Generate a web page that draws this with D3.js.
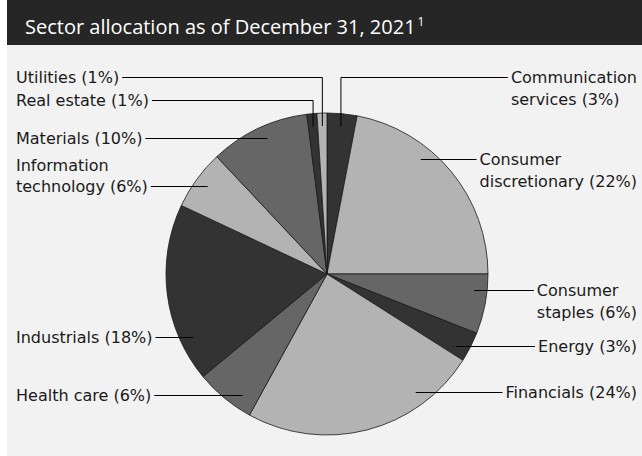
<!DOCTYPE html>
<html>
<head>
<meta charset="utf-8">
<script src="https://cdn.jsdelivr.net/npm/d3@7"></script>
<style>
body { margin: 0; background: #fff; }
</style>
</head>
<body>
<svg id="chart" width="642" height="456"></svg>
<script>
// data
var sectors = ["Communication services", "Consumer discretionary", "Consumer staples", "Energy", "Financials",
	"Health care", "Industrials", "Information technology", "Materials", "Real estate", "Utilities"];
var weights = [3, 22, 6, 3, 24, 6, 18, 6, 10, 1, 1];
// words on the first label line (0 = one line)
var wrapAfter = [1, 1, 1, 0, 0, 0, 0, 1, 0, 0, 0];
var shades = ["#333333", "#b3b3b3", "#666666"];

var title = "Sector allocation as of December 31, 2021";
var note = "1";

// label layout: which side and at what height the leader line runs
var labelSide = [1, 1, 1, 1, 1, -1, -1, -1, -1, -1, -1];
var labelY = [77.5, 159.5, 290.5, 346.5, 392.5, 395.5, 337.5, 186.5, 138.5, 100.5, 77.5];
var elbow = [true, false, false, false, false, false, false, false, false, true, true];

var W = 642, H = 456;
var cx = 327, cy = 274, R = 161, anchorR = 148;
var lineGap = 21.5;

var svg = d3.select('#chart');

svg.append('rect')
	.attr('x', 7).attr('y', 0)
	.attr('width', W - 7).attr('height', H)
	.style('fill', '#f2f2f2');

svg.append('rect')
	.attr('x', 7).attr('y', 0)
	.attr('width', W - 7).attr('height', 45)
	.style('fill', '#262626');

var t = svg.append('text')
	.attr('x', 25).attr('y', 34)
	.style('font-family', '"Open Sans", sans-serif')
	.style('font-size', '20px')
	.style('fill', '#ffffff')
	.text(title);
t.append('tspan')
	.attr('dy', -8)
	.attr('dx', 2)
	.style('font-size', '12px')
	.text(note);

var pie = d3.pie().sort(null).value(function(d) { return d; });
var arcs = pie(weights);
var arc = d3.arc().innerRadius(0).outerRadius(R);

var g = svg.append('g').attr('transform', 'translate(' + cx + ',' + cy + ')');

g.selectAll('.slice')
	.data(arcs)
	.enter()
	.append('path')
	.attr('class', 'slice')
	.attr('d', arc)
	.style('fill', function(d, i) { return shades[i % 3]; })
	.style('stroke', '#1a1a1a')
	.style('stroke-width', 0.8);

var labels = svg.append('g')
	.style('font-family', '"DejaVu Sans", sans-serif')
	.style('font-size', '16px')
	.style('fill', '#1a1a1a');

arcs.forEach(function(a, i) {
	var words = (sectors[i] + ' (' + weights[i] + '%)').split(' ');
	var lines = wrapAfter[i] ? [words.slice(0, wrapAfter[i]).join(' '), words.slice(wrapAfter[i]).join(' ')] : [words.join(' ')];
	var side = labelSide[i];
	var y = labelY[i];

	var txt = labels.append('text');
	var spans = lines.map(function(l, k) {
		var ly = side > 0 ? y + k * lineGap : y - (lines.length - 1 - k) * lineGap;
		return txt.append('tspan').attr('y', ly).attr('dy', '0.36em').text(l);
	});
	var widths = spans.map(function(s) { return s.node().getComputedTextLength(); });

	var textX, lineEnd;
	if (side > 0) {
		textX = 637 - d3.max(widths);
		lineEnd = textX - 3;
	} else {
		textX = 16;
		lineEnd = textX + widths[widths.length - 1] + 3;
	}
	spans.forEach(function(s) { s.attr('x', textX); });

	var mid = (a.startAngle + a.endAngle) / 2;
	var path;
	if (elbow[i]) {
		var ax = cx + anchorR * Math.sin(mid);
		var ay = cy - anchorR * Math.cos(mid);
		path = 'M' + ax + ',' + ay + 'V' + y + 'H' + lineEnd;
	} else {
		var dy = y - cy;
		var ax2 = cx + side * Math.sqrt(anchorR * anchorR - dy * dy);
		path = 'M' + ax2 + ',' + y + 'H' + lineEnd;
	}
	svg.append('path')
		.attr('d', path)
		.style('fill', 'none')
		.style('stroke', '#000')
		.style('stroke-width', 1);
});
</script>
</body>
</html>
